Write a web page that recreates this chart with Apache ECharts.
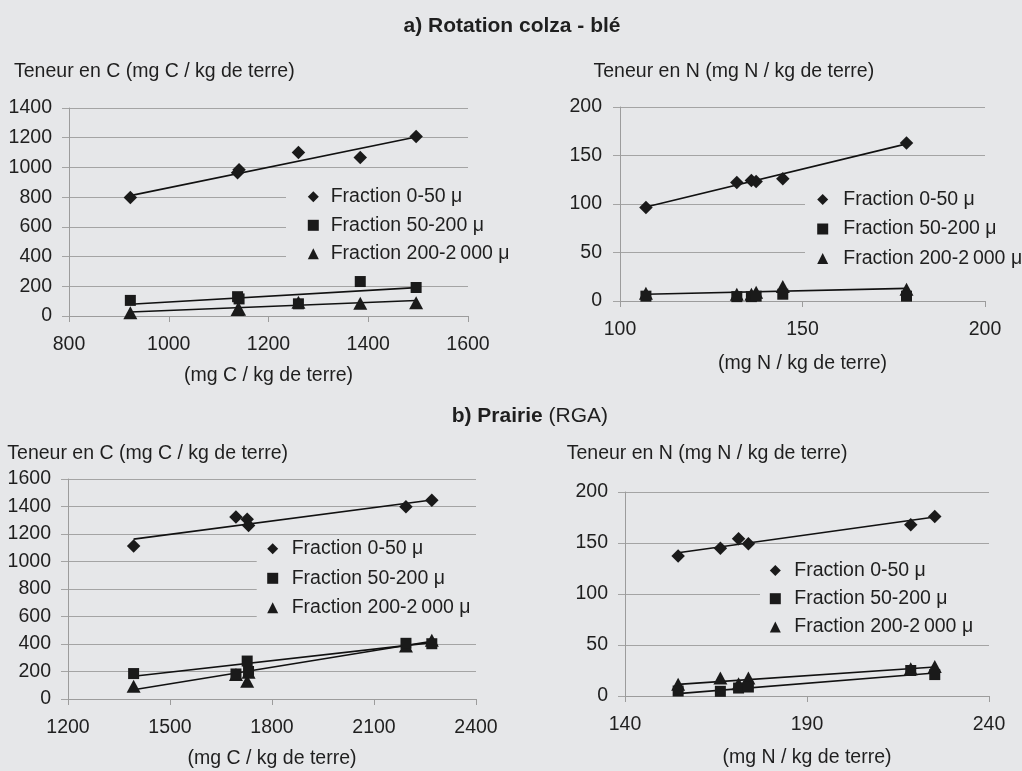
<!DOCTYPE html>
<html><head><meta charset="utf-8">
<script src="https://cdn.jsdelivr.net/npm/echarts@6/dist/echarts.min.js"></script>
<style>html,body{margin:0;padding:0;background:#e6e7e9;}#c{width:1022px;height:771px;}</style>
</head><body><div id="c"></div>
<script>
// ---- data ----
const seriesNames = ['Fraction 0-50 μ', 'Fraction 50-200 μ', 'Fraction 200-2\u2009000 μ'];

// a) Rotation colza - blé, carbon
const aC_x  = [923, 1138, 1141, 1260, 1384, 1496];
const aC_f0 = [797, 965, 985, 1101, 1067, 1209];
const aC_f1 = [105, 130, 115, 82, 232, 192];
const aC_f2 = [22, 43, 45, 92, 85, 90];
const aC_t0 = [[923, 810], [1496, 1205]];
const aC_t1 = [[923, 79], [1496, 191]];
const aC_t2 = [[923, 27], [1496, 104]];

// a) Rotation colza - blé, nitrogen
const aN_x  = [107.1, 132.0, 136.0, 137.3, 144.6, 178.5];
const aN_f0 = [96.4, 122.2, 124.3, 123.2, 126.0, 162.8];
const aN_f1 = [5, 4.5, 4.5, 5, 7, 5];
const aN_f2 = [8, 7, 7, 9, 15, 12];
const aN_t0 = [[107.1, 97], [178.5, 162]];
const aN_t2 = [[107.1, 7], [178.5, 13]];

// b) Prairie (RGA), carbon
const bC_x  = [1393, 1694, 1727, 1731, 2194, 2270];
const bC_f0 = [1112, 1324, 1307, 1261, 1398, 1446];
const bC_f1 = [185, 182, 276, 200, 405, 402];
const bC_f2 = [93, 178, 129, 195, 385, 427];
const bC_t0 = [[1393, 1163], [2270, 1447]];
const bC_t1 = [[1393, 166], [2270, 410]];
const bC_t2 = [[1393, 67], [2270, 420]];

// b) Prairie (RGA), nitrogen
const bN_x  = [154.6, 166.2, 171.2, 173.9, 218.5, 225.1];
const bN_f0 = [137.3, 144.8, 154.2, 149.3, 168.0, 176.1];
const bN_f1 = [4.9, 4.6, 7.8, 8.8, 25, 21];
const bN_f2 = [11.4, 17.6, 12.0, 17.6, 26.8, 29.0];
const bN_t0 = [[154.6, 140.5], [225.1, 175.5]];
const bN_t1 = [[154.6, 2.3], [225.1, 22.5]];
const bN_t2 = [[154.6, 11.4], [225.1, 28.4]];

// tick settings
const aC_xTicks = {min: 800, max: 1600, interval: 200};
const aC_yTicks = {min: 0, max: 1400, interval: 200};
const aN_xTicks = {min: 100, max: 200, interval: 50};
const aN_yTicks = {min: 0, max: 200, interval: 50};
const bC_xTicks = {min: 1200, max: 2400, interval: 300};
const bC_yTicks = {min: 0, max: 1600, interval: 200};
const bN_xTicks = {min: 140, max: 240, interval: 50};
const bN_yTicks = {min: 0, max: 200, interval: 50};

const titleA = 'a) Rotation colza - blé';
const titleB1 = 'b) Prairie';
const titleB2 = '(RGA)';
const yNameC = 'Teneur en C (mg C / kg de terre)';
const yNameN = 'Teneur en N (mg N / kg de terre)';
const xNameC = '(mg C / kg de terre)';
const xNameN = '(mg N / kg de terre)';

// ---- styling / layout ----
const FONT = "'Liberation Sans', Arial, Helvetica, sans-serif";
const FS = 19.5;
const TFS = 21;
const TXT = '#1f1f1f';
const GRIDC = '#a4a4a4';
const AXC = '#9c9c9c';
const MARK = '#1a1a1a';
const symbols = ['diamond', 'rect', 'triangle'];
const symSizes = [13.5, 11, [14, 13]];
const fmt = v => String(v);

const panels = [
  {grid: {left: 69, top: 108, width: 399, height: 208}, xt: aC_xTicks, yt: aC_yTicks,
   xs: aC_x, ys: [aC_f0, aC_f1, aC_f2], trends: [aC_t0, aC_t1, aC_t2], xName: xNameC, nameGap: 50, yMargin: 17,
   lg: {left: 286, top: 178.8, padding: [8, 20, 6, 21.8], gap: 8.5, tp: 6.9}},
  {grid: {left: 620, top: 107, width: 365, height: 194}, xt: aN_xTicks, yt: aN_yTicks,
   xs: aN_x, ys: [aN_f0, aN_f1, aN_f2], trends: [aN_t0, null, aN_t2], xName: xNameN, nameGap: 53, yMargin: 18,
   lg: {left: 805, top: 181.5, padding: [8, 20, 6, 12.2], gap: 9.5, tp: 10.1}},
  {grid: {left: 68, top: 479, width: 408, height: 220}, xt: bC_xTicks, yt: bC_yTicks,
   xs: bC_x, ys: [bC_f0, bC_f1, bC_f2], trends: [bC_t0, bC_t1, bC_t2], xName: xNameC, nameGap: 50, yMargin: 17,
   lg: {left: 256.7, top: 535.5, padding: [3.3, 20, 6, 10.5], gap: 9.5, tp: 8.5}},
  {grid: {left: 625, top: 492, width: 364, height: 204}, xt: bN_xTicks, yt: bN_yTicks,
   xs: bN_x, ys: [bN_f0, bN_f1, bN_f2], trends: [bN_t0, bN_t1, bN_t2], xName: xNameN, nameGap: 52, yMargin: 17,
   lg: {left: 760, top: 555.5, padding: [5, 20, 4, 9.8], gap: 8.2, tp: 8.5}}
];

const grid = [], xAxis = [], yAxis = [], series = [], legend = [];
panels.forEach((p, i) => {
  grid.push(Object.assign({containLabel: false}, p.grid));
  xAxis.push({
    type: 'value', gridIndex: i, min: p.xt.min, max: p.xt.max, interval: p.xt.interval,
    name: p.xName, nameLocation: 'middle', nameGap: p.nameGap,
    nameTextStyle: {fontFamily: FONT, fontSize: FS, color: TXT},
    axisLine: {show: true, onZero: false, lineStyle: {color: AXC, width: 1}},
    axisTick: {show: true, inside: false, length: 6, lineStyle: {color: AXC}},
    axisLabel: {margin: 19, fontFamily: FONT, fontSize: FS, color: TXT, formatter: fmt},
    splitLine: {show: false}
  });
  yAxis.push({
    type: 'value', gridIndex: i, min: p.yt.min, max: p.yt.max, interval: p.yt.interval,
    axisLine: {show: true, onZero: false, lineStyle: {color: AXC, width: 1}},
    axisTick: {show: true, inside: false, length: 7, lineStyle: {color: GRIDC}},
    axisLabel: {margin: p.yMargin, fontFamily: FONT, fontSize: FS, color: TXT, formatter: fmt},
    splitLine: {show: true, lineStyle: {color: GRIDC, width: 1}}
  });
  p.trends.forEach((t, k) => {
    if (!t) return;
    series.push({
      type: 'line', name: 'trend' + i + '_' + k, xAxisIndex: i, yAxisIndex: i,
      data: t, showSymbol: false, symbol: 'none', silent: true, z: 3,
      lineStyle: {color: '#111', width: 1.6}
    });
  });
  p.ys.forEach((ys, k) => {
    series.push({
      type: 'scatter', name: seriesNames[k], xAxisIndex: i, yAxisIndex: i,
      data: p.xs.map((x, j) => [x, ys[j]]),
      symbol: symbols[k], symbolSize: symSizes[k], z: 4 + (2 - k),
      itemStyle: {color: MARK, opacity: 1}
    });
  });
  legend.push({
    orient: 'vertical', left: p.lg.left, top: p.lg.top, padding: p.lg.padding,
    itemGap: p.lg.gap, itemWidth: 11, itemHeight: 11, selectedMode: false,
    backgroundColor: '#e6e7e9', z: 10,
    data: seriesNames.map((n, k) => ({name: n, icon: symbols[k], itemStyle: {color: MARK}})),
    textStyle: {fontFamily: FONT, fontSize: FS, color: TXT, lineHeight: 20, padding: [0, 0, 0, p.lg.tp]}
  });
});

const textEl = (x, y, text, extra) => ({
  type: 'text', x: x, y: y, silent: true, z: 20,
  style: Object.assign({text: text, fontFamily: FONT, fontSize: FS, fill: TXT, align: 'left', verticalAlign: 'middle'}, extra || {})
});

const graphic = [
  textEl(512, 26, titleA, {align: 'center', fontWeight: 'bold', fontSize: TFS}),
  {type: 'text', x: 451.7, y: 416.7, silent: true, z: 20,
   style: {text: '{b|' + titleB1 + '} {n|' + titleB2 + '}', fontFamily: FONT, fontSize: TFS, fill: TXT,
     align: 'left', verticalAlign: 'middle',
     rich: {b: {fontWeight: 'bold', fontSize: TFS, fontFamily: FONT, fill: TXT}, n: {fontSize: TFS, fontFamily: FONT, fill: TXT}}}},
  textEl(14, 71.2, yNameC),
  textEl(593.5, 71.2, yNameN),
  textEl(7.3, 453.3, yNameC),
  textEl(566.7, 453.3, yNameN)
];

const chart = echarts.init(document.getElementById('c'));
chart.setOption({
  animation: false,
  backgroundColor: '#e6e7e9',
  textStyle: {fontFamily: FONT},
  grid: grid, xAxis: xAxis, yAxis: yAxis, series: series, legend: legend, graphic: graphic
});
</script></body></html>
